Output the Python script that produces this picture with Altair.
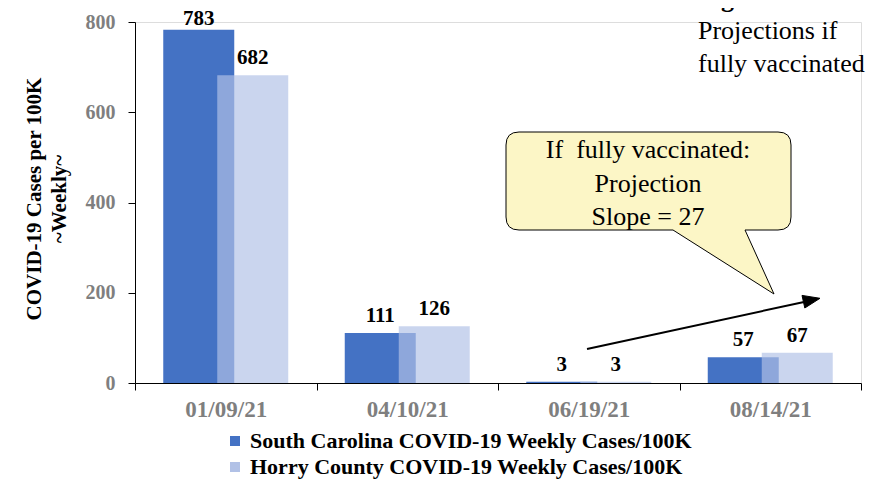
import altair as alt
import pandas as pd

# ---- data ----
dates = ["01/09/21", "04/10/21", "06/19/21", "08/14/21"]
sc_values = [783, 111, 3, 57]
horry_values = [682, 126, 3, 67]
series_names = [
    "South Carolina COVID-19 Weekly Cases/100K",
    "Horry County COVID-19 Weekly Cases/100K",
]
series_colors = ["#4472C4", "#B1C1E6"]
y_ticks = [0, 200, 400, 600, 800]
y_title = ["COVID-19 Cases per 100K", "~Weekly~"]
bubble_text = "If\u00a0 fully vaccinated:\nProjection\nSlope = 27"
fig_title = "Figure 2:"
fig_sub = "Projections if\nfully vaccinated"

rows = []
for d, s, h in zip(dates, sc_values, horry_values):
    rows.append({"date": d, "series": series_names[0], "value": s})
    rows.append({"date": d, "series": series_names[1], "value": h})
df = pd.DataFrame(rows)
one = pd.DataFrame({"k": [0]})

FONT = "Liberation Serif"
W, H = 726, 361
GRAY = "#7F7F7F"

x_enc = alt.X(
    "date:N",
    sort=dates,
    scale=alt.Scale(paddingInner=0, paddingOuter=0),
    axis=alt.Axis(
        title=None, labelAngle=0, labelFont=FONT, labelFontSize=23,
        labelFontWeight="bold", labelColor=GRAY, labelPadding=8,
        tickBand="extent", tickSize=7, tickColor="black",
        domainColor="black", grid=False,
    ),
)
y_axis = alt.Axis(
    values=y_ticks, title=y_title, grid=False,
    labelFont=FONT, labelFontSize=20, labelFontWeight="bold",
    labelColor=GRAY, labelPadding=13, tickSize=7, tickColor="black",
    domainColor="black",
    titleFont=FONT, titleFontSize=21, titleFontWeight="bold",
    titleColor="black", titleAngle=270, titleBaseline="alphabetic",
    titleAlign="center", titleX=-95, titleY=176.5, titleLineHeight=25,
)
y_enc = alt.Y("value:Q", scale=alt.Scale(domain=[0, 800], nice=False), axis=y_axis)
color_enc = alt.Color(
    "series:N",
    scale=alt.Scale(domain=series_names, range=series_colors),
    legend=alt.Legend(
        title=None, orient="none", legendX=89, legendY=408,
        direction="vertical", symbolType="square", symbolSize=100,
        symbolStrokeWidth=0, symbolOpacity=1,
        labelFont=FONT, labelFontSize=22, labelFontWeight="bold",
        labelColor="black", labelOffset=4, rowPadding=4, padding=0,
        labelLimit=0,
    ),
)

base = alt.Chart(df)

sc_bar = base.transform_filter(alt.datum.series == series_names[0]).mark_bar(
    width=71, xOffset=-27
).encode(x=x_enc, y=y_enc, color=color_enc)

horry_bar = base.transform_filter(alt.datum.series == series_names[1]).mark_bar(
    width=71, xOffset=27, opacity=0.68
).encode(x=x_enc, y=y_enc, color=color_enc)

def labels(name, off):
    return base.transform_filter(alt.datum.series == name).transform_calculate(
        label_pos="min(datum.value + 24, 793)"
    ).mark_text(
        xOffset=off, baseline="alphabetic", align="center", font=FONT,
        fontSize=21, fontWeight="bold", color="black",
    ).encode(x=x_enc, y=alt.Y("label_pos:Q"), text="value:Q")

sc_lab = labels(series_names[0], -27)
horry_lab = labels(series_names[1], 27)

bubble_path = (
    "M384,110 L643,110 Q656,110 656,123 L656,195 Q656,208 643,208 "
    "L610,208 L639,272 L538,208 L384,208 Q371,208 371,195 L371,123 "
    "Q371,110 384,110 Z"
)
bubble = alt.Chart(one).mark_point(
    shape=bubble_path, size=4, filled=True, fill="#FCF6C6",
    stroke="black", strokeWidth=1, opacity=1,
).encode(x=alt.value(0), y=alt.value(0))

bubble_txt = alt.Chart(one).mark_text(
    font=FONT, fontSize=26, align="center", baseline="alphabetic",
    lineBreak="\n", lineHeight=33.5, color="black",
).encode(x=alt.value(513), y=alt.value(136), text=alt.value(bubble_text))

arrow_line = alt.Chart(one).mark_rule(color="black", strokeWidth=2).encode(
    x=alt.value(452), y=alt.value(327), x2=alt.value(669), y2=alt.value(280)
)
arrow_head = alt.Chart(one).mark_point(
    shape="M685,276.3 L669.8,286 L667,273.4 Z", size=4, filled=True,
    fill="black", stroke="black", strokeWidth=1, opacity=1,
).encode(x=alt.value(0), y=alt.value(0))

fig_t = alt.Chart(one).mark_text(
    font=FONT, fontSize=26, fontWeight="bold", align="left",
    baseline="alphabetic", color="black",
).encode(x=alt.value(563), y=alt.value(-15), text=alt.value(fig_title))

fig_s = alt.Chart(one).mark_text(
    font=FONT, fontSize=26, align="left", baseline="alphabetic",
    lineBreak="\n", lineHeight=32.4, color="black",
).encode(x=alt.value(563), y=alt.value(17.3), text=alt.value(fig_sub))

chart = alt.layer(
    sc_bar, horry_bar, sc_lab, horry_lab, bubble, bubble_txt,
    arrow_line, arrow_head, fig_t, fig_s,
).properties(
    width=W, height=H,
    padding={"left": 127, "top": 14, "right": 11, "bottom": 98},
    autosize="none",
).configure_view(stroke=None).configure(background="white")

chart.save("out.html", embed_options={"renderer": "svg", "actions": False})
